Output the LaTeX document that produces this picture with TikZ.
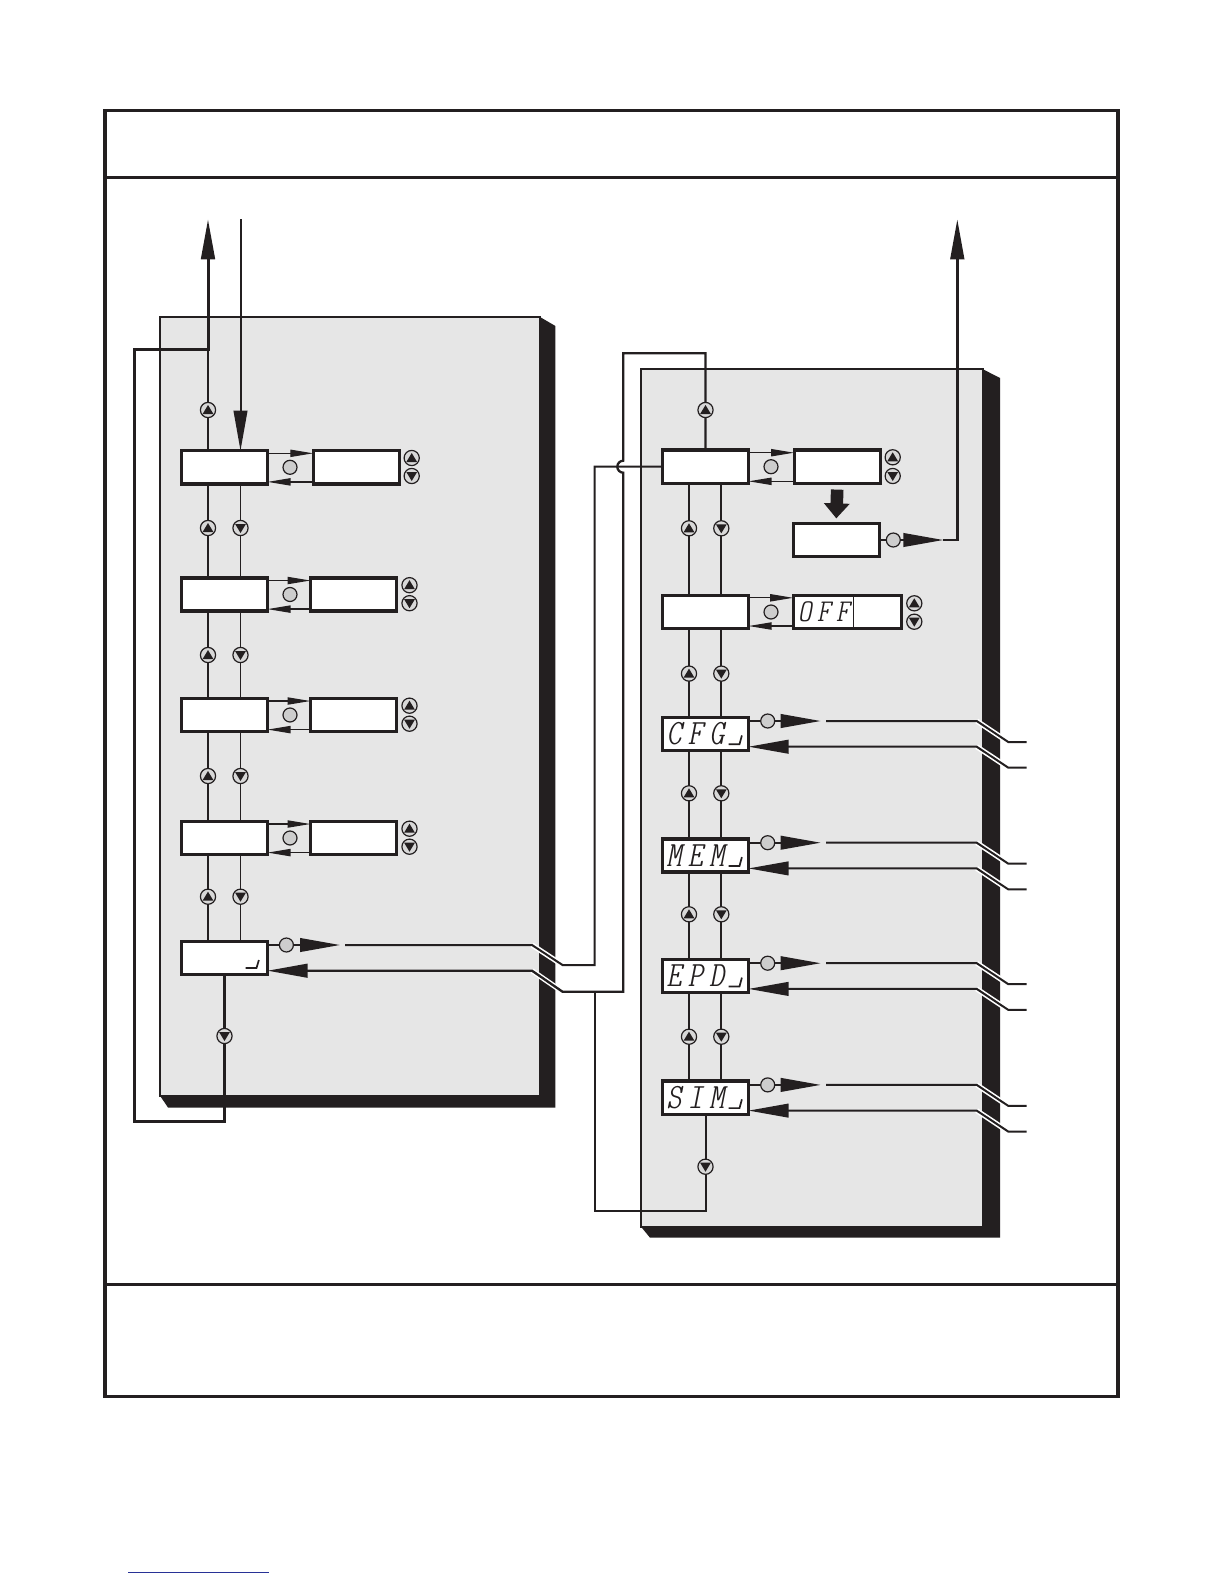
\documentclass[tikz,border=0pt]{standalone}
\usepackage{fontspec}
\usetikzlibrary{arrows.meta}
\newfontfamily\segfont{lmmonoltcond10-oblique}[Extension=.otf, FakeStretch=1.18]
\definecolor{ink}{RGB}{35,31,32}
\definecolor{panelgray}{RGB}{230,230,230}
\definecolor{dotgray}{RGB}{205,205,205}
\definecolor{btngray}{RGB}{216,216,216}
\definecolor{linkblue}{RGB}{40,50,150}
\newcommand\sgl[1]{\makebox[10.7pt][l]{#1}}
\newcommand\sgs[1]{\makebox[9.5pt][l]{#1}}
\pgfdeclarelayer{back}
\pgfdeclarelayer{wires}
\pgfsetlayers{back,wires,main}
\tikzset{
  box/.style={draw=ink, line width=1.65pt, fill=white, minimum width=43pt, minimum height=16.6pt, inner sep=0pt, outer sep=0pt},
  widebox/.style={minimum width=54pt},
  segtxt/.style={font=\segfont\fontsize{17.8pt}{18pt}\selectfont, text=ink, align=left, text width=39pt, inner xsep=2pt, text height=10.9pt, text depth=0pt},
  offtxt/.style={font=\segfont\fontsize{15.9pt}{16pt}\selectfont, text=ink, align=left, text width=49pt, inner xsep=2.5pt, text height=9.7pt, text depth=0pt},
  graydot/.style={circle, draw=ink, fill=dotgray, line width=0.6pt, minimum size=7pt, inner sep=0pt, outer sep=0pt},
  upbtn/.style={circle, draw=ink, fill=btngray, line width=0.6pt, minimum size=7.6pt, inner sep=0pt, outer sep=0pt,
    path picture={\fill[ink] ([yshift=2.5pt]path picture bounding box.center) -- ++(-2.7pt,-4.5pt) -- ++(5.4pt,0pt) -- cycle;}},
  dnbtn/.style={circle, draw=ink, fill=btngray, line width=0.6pt, minimum size=7.6pt, inner sep=0pt, outer sep=0pt,
    path picture={\fill[ink] ([yshift=-2.5pt]path picture bounding box.center) -- ++(-2.7pt,4.5pt) -- ++(5.4pt,0pt) -- cycle;}},
  conn/.style={draw=ink, line width=1pt},
  colline/.style={draw=ink, line width=0.85pt},
  loopline/.style={draw=ink, line width=1.5pt},
  rloopline/.style={draw=ink, line width=1.15pt},
  mainline/.style={draw=ink, line width=1.35pt},
  sarr/.style={draw=ink, line width=0.65pt, -{Triangle[length=11.5pt,width=3.6pt]}},
  bigtip/.style={-{Triangle[length=20pt,width=6.8pt]}},
  halo/.style={draw=white, line width=2.6pt},
  segmark/.style={draw=ink, line width=0.85pt},
  blockarrow/.style={draw=ink, line width=6.3pt, -{Triangle[length=7.5pt,width=12.5pt]}}
}
\begin{document}
\begin{tikzpicture}[x=0.5pt,y=-0.5pt]
\useasboundingbox (0,0) rectangle (1224,1584);
\begin{pgfonlayer}{back}
  \fill[white] (0,0) rectangle (1224,1584);
  \draw[ink, line width=1.6pt] (105,110.7) rectangle (1118,1396.7);
  \draw[ink, line width=1.25pt] (105,177.7) -- (1118,177.7);
  \draw[ink, line width=1.25pt] (105,1284.5) -- (1118,1284.5);
  \draw[linkblue, line width=0.75pt] (128,1572.5) -- (269,1572.5);
  % left panel
  \fill[ink] (540,317) -- (555.4,326) -- (555.4,1107.5) -- (168,1107.5) -- (160,1095.7) -- (540,1095.7) -- cycle;
  \draw[ink, fill=panelgray, line width=0.85pt] (160,316.7) rectangle (540,1095.7);
  % right panel
  \fill[ink] (983,369.3) -- (1000,378) -- (1000,1237.7) -- (650,1237.7) -- (641,1226.7) -- (983,1226.7) -- cycle;
  \draw[ink, fill=panelgray, line width=0.85pt] (641,369.3) rectangle (983,1226.7);
\end{pgfonlayer}

% ---------- left panel nodes
\node[box] (L1) at (224.5,467.3) {};
\node[box] (Lb1) at (356.3,467.3) {};
\node[graydot] (Lc1) at (290,467.3) {};
\node[upbtn] (Lu1) at (411.7,458) {};
\node[dnbtn] (Ld1) at (411.7,476) {};
\foreach \n/\y in {2/594.5,3/715,4/838} {
  \node[box] (L\n) at (224.5,\y) {};
  \node[box] (Lb\n) at (353.5,\y) {};
  \node[graydot] (Lc\n) at (290,\y) {};
  \node[upbtn] (Lu\n) at (409.5,{\y-9.3}) {};
  \node[dnbtn] (Ld\n) at (409.5,{\y+8.7}) {};
}
\node[box] (L5) at (224.5,958.2) {};
\draw[segmark] (L5.south east) ++(-22,-6.8) -- ++(11,0) -- ++(2.4,-8);
\node[graydot] (Lc5) at (286.4,945) {};
\node[upbtn] (lq0) at (208,410) {};
\foreach \y [count=\n] in {528,655,776,896.7} {
  \node[upbtn] (lq\n) at (208,\y) {};
  \node[dnbtn] (lr\n) at (240.5,\y) {};
}
\node[dnbtn] (lr5) at (224.5,1036) {};

% ---------- right panel nodes
\node[box] (RA) at (705.5,466.7) {};
\node[box] (RB) at (837.2,466.7) {};
\node[graydot] (RAc) at (771,466.7) {};
\node[upbtn] (RBu) at (892.7,457.3) {};
\node[dnbtn] (RBd) at (892.7,476) {};
\node[box] (RC) at (836.3,540) {};
\node[graydot] (RCc) at (893.3,540) {};
\node[box] (RD) at (705.5,612) {};
\node[box,widebox,offtxt] (RE) at (847.2,612) {\sgs{O}\sgs{F}\sgs{F}};
\coordinate (REdiv) at (853.3,0);
\draw[ink, line width=0.6pt] (RE.north -| REdiv) -- (RE.south -| REdiv);
\node[graydot] (RDc) at (771,612) {};
\node[upbtn] (REu) at (914.3,603.3) {};
\node[dnbtn] (REd) at (914.3,621.7) {};
\foreach \rk/\cy/\pa/\pb/\pc in {1/733.8/C/F/G, 2/855.5/M/E/M, 3/976/E/P/D, 4/1097.7/S/I/M} {
  \node[box,segtxt] (R\rk) at (705.5,\cy) {\sgl{\pa}\sgl{\pb}\sgl{\pc}};
  \draw[segmark] (R\rk.south east) ++(-20,-6.2) -- ++(11,0) -- ++(2.4,-8.8);
  \node[graydot] (rc\rk) at (767.7,{\cy-12.8}) {};
}
\node[upbtn] (rq0) at (705.5,410) {};
\foreach \y [count=\n] in {528.3,673.6,793.3,914.3,1036.7} {
  \node[upbtn] (rq\n) at (689,\y) {};
  \node[dnbtn] (rr\n) at (721.3,\y) {};
}
\node[dnbtn] (rr6) at (705.5,1166.7) {};

% ---------- connectors
\begin{pgfonlayer}{wires}
  \coordinate (colLu) at (208,0);
  \coordinate (colLd) at (240.5,0);
  \coordinate (colRu) at (689,0);
  \coordinate (colRd) at (721.3,0);
  \foreach \pa/\pb in {L1/L2,L2/L3,L3/L4,L4/L5} {
    \draw[colline] (\pa.south -| colLu) -- (\pb.north -| colLu);
    \draw[colline] (\pa.south -| colLd) -- (\pb.north -| colLd);
  }
  \foreach \pa/\pb in {RA/RD,RD/R1,R1/R2,R2/R3,R3/R4} {
    \draw[colline] (\pa.south -| colRu) -- (\pb.north -| colRu);
    \draw[colline] (\pa.south -| colRd) -- (\pb.north -| colRd);
  }
  % left top loop and arrows
  \coordinate (LloopTR) at (208,349);
  \coordinate (LUtop) at (208,219.3);
  \coordinate (LDtop) at (240.5,219);
  \coordinate (LloopBL) at (134,1121);
  \draw[colline] (L1.north -| colLu) -- (LloopTR);
  \draw[loopline,bigtip] (L5.south) |- (LloopBL) |- (LloopTR) -- (LUtop);
  \draw[conn,bigtip] (LDtop) -- (L1.north -| colLd);
  % small arrows between box pairs
  \foreach \n in {1,2,3,4} {
    \draw[sarr] (L\n.north east) ++(0,2.6) coordinate (la\n) -- (la\n -| Lb\n.west);
    \draw[sarr] (Lb\n.south west) ++(0,-2) coordinate (lb\n) -- (lb\n -| L\n.east);
  }
  \draw[sarr] (RA.north east) ++(0,2.6) coordinate (ra1) -- (ra1 -| RB.west);
  \draw[sarr] (RB.south west) ++(0,-2) coordinate (rb1) -- (rb1 -| RA.east);
  \draw[sarr] (RD.north east) ++(0,2.4) coordinate (ra2) -- (ra2 -| RE.west);
  \draw[sarr] (RE.south west) ++(0,-2.6) coordinate (rb2) -- (rb2 -| RD.east);
  % block arrow
  \draw[blockarrow] ([yshift=-3.15pt]RB.south) -- ([yshift=2.5pt]RC.north);
  % RC up to top
  \coordinate (RCt) at (943.3,540);
  \coordinate (RCk) at (957.3,540);
  \coordinate (RUtop) at (957.3,219.3);
  \draw[conn] (RC.east) -- (RCc);
  \draw[conn,bigtip] (RCc) -- (RCt);
  \draw[mainline,bigtip] (RCt) -- (RCk) -- (RUtop);
  % L5 connectors
  \coordinate (L5t) at (340,945);
  \coordinate (L5s) at (345,945);
  \coordinate (L5d) at (532,945);
  \coordinate (L5e) at (562.5,965);
  \coordinate (J1) at (594.6,965);
  \coordinate (L5g) at (532,970.7);
  \coordinate (L5h) at (562.5,991.7);
  \coordinate (J2) at (594.6,991.7);
  \coordinate (RloopBR) at (623.3,991.7);
  \coordinate (RloopTL) at (623.3,353.3);
  \coordinate (hop) at (623.3,460.7);
  \coordinate (Rbot) at (594.6,1210.7);
  \draw[halo] (L5d) -- (L5e);
  \draw[halo] (L5g) -- (L5h);
  \draw[conn] (L5.east |- Lc5) -- (Lc5);
  \draw[conn,bigtip] (Lc5) -- (L5t);
  \draw[conn] (L5s) -- (L5d) -- (L5e) -- (J1) |- (RA.west);
  \draw[rloopline,bigtip] (RA.north) |- (RloopTL) -- (hop) arc[start angle=270,end angle=90,radius=6] -- (RloopBR) -- (L5h) -- (L5g) -- (L5.east |- L5g);
  \draw[conn] (R4.south) |- (Rbot) -- (J2);
  % right row connectors
  \foreach \rk/\cy in {1/733.8,2/855.5,3/976,4/1097.7} {
    \pgfmathsetmacro\uy{\cy-12.8}
    \pgfmathsetmacro\ue{\cy+8.2}
    \pgfmathsetmacro\ly{\cy+12.9}
    \pgfmathsetmacro\le{\cy+33.9}
    \coordinate (rt\rk) at (820.7,\uy);
    \coordinate (rs\rk) at (826,\uy);
    \coordinate (rd\rk) at (976.7,\uy);
    \coordinate (re\rk) at (1008.3,\ue);
    \coordinate (rf\rk) at (1026.7,\ue);
    \coordinate (rg\rk) at (976.7,\ly);
    \coordinate (rh\rk) at (1008.3,\le);
    \coordinate (ri\rk) at (1026.7,\le);
    \draw[halo] (rd\rk) -- (re\rk);
    \draw[halo] (rg\rk) -- (rh\rk);
    \draw[conn] (R\rk.east |- rc\rk) -- (rc\rk);
    \draw[conn,bigtip] (rc\rk) -- (rt\rk);
    \draw[conn] (rs\rk) -- (rd\rk) -- (re\rk) -- (rf\rk);
    \draw[conn,bigtip] (ri\rk) -- (rh\rk) -- (rg\rk) -- (R\rk.east |- rg\rk);
  }
\end{pgfonlayer}
\end{tikzpicture}
\end{document}
